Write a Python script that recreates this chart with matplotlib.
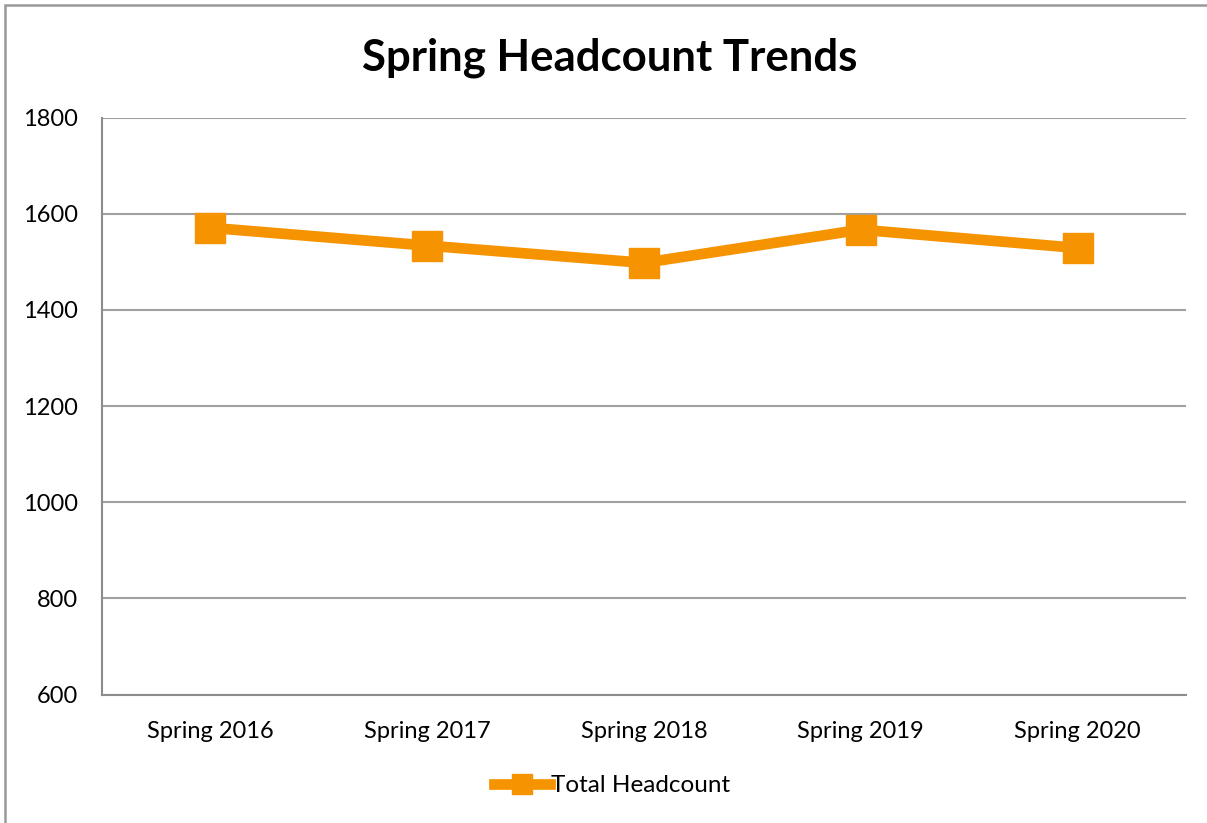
import matplotlib
matplotlib.use("Agg")
import matplotlib.pyplot as plt
from matplotlib.patches import Rectangle

# data
terms = ["Spring 2016", "Spring 2017", "Spring 2018", "Spring 2019", "Spring 2020"]
headcount = [1571, 1534, 1498, 1567, 1529]
y_ticks = [600, 800, 1000, 1200, 1400, 1600, 1800]

orange = "#F59300"
grid_gray = "#A0A0A0"

plt.rcParams['font.family'] = ['Lato', 'DejaVu Sans']

fig = plt.figure(figsize=(12.07, 8.23), dpi=100)
ax = fig.add_axes([0.0843, 0.1561, 0.8983, 0.7009])

x = list(range(len(terms)))
ax.plot(x, headcount, color=orange, lw=7.7, marker='s', markersize=21.5,
        label='Total Headcount', solid_joinstyle='miter')

ax.set_xlim(-0.5, len(terms) - 0.5)
ax.set_ylim(600, 1800)
ax.set_yticks(y_ticks)
ax.set_xticks(x)
ax.set_xticklabels(terms)
ax.tick_params(length=0, labelsize=17)
ax.tick_params(axis='x', pad=19)
ax.tick_params(axis='y', pad=17)
ax.yaxis.grid(True, color=grid_gray, lw=1.5)
ax.set_axisbelow(True)

for s in ['top', 'right']:
    ax.spines[s].set_visible(False)
for s in ['left', 'bottom']:
    ax.spines[s].set_color('#8C8C8C')
    ax.spines[s].set_linewidth(1.5)

fig.text(0.505, 0.93, 'Spring Headcount Trends', ha='center', va='center',
         fontsize=31.5, fontweight='bold')

leg = fig.legend(loc='center', bbox_to_anchor=(0.507, 0.045), frameon=False,
                 fontsize=17.5, handlelength=2.3, handletextpad=0.05,
                 markerscale=0.68)

# outer chart frame (cropped at right/bottom)
fig.patches.append(Rectangle((5 / 1207, -0.1), 1.2, 1.1 - 5 / 823,
                             transform=fig.transFigure, fill=False,
                             edgecolor='#999999', lw=1.8))

fig.savefig('out.png', dpi=100)
